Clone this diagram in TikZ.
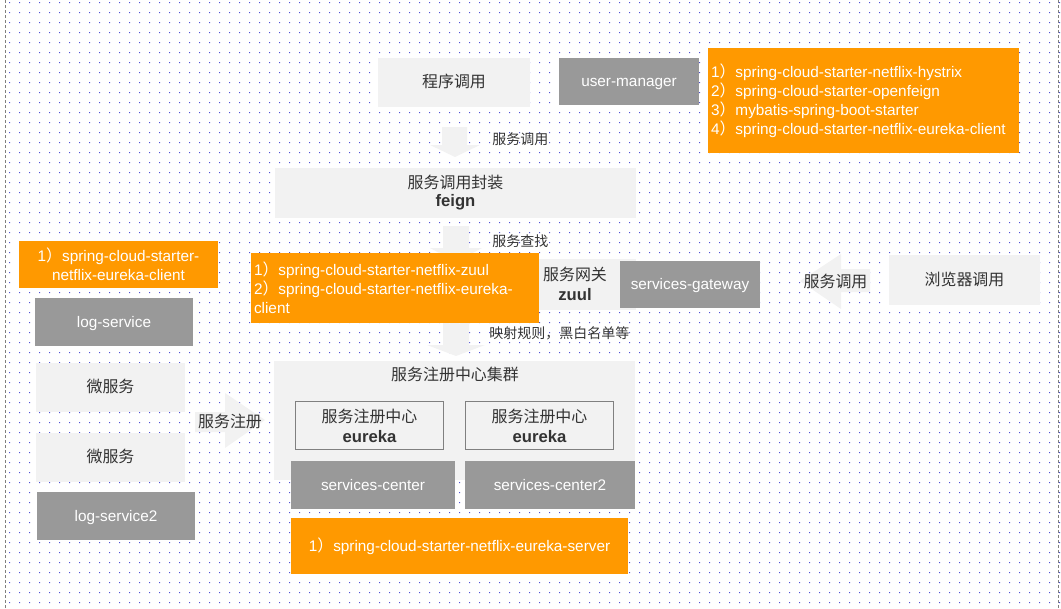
\documentclass[tikz,border=0pt]{standalone}
\usepackage{fontspec}
\setmainfont{Liberation Sans}
\newfontfamily\cjk[Scale=1.04]{Noto Sans CJK SC}
\definecolor{boxlight}{HTML}{F2F2F2}
\definecolor{boxgray}{HTML}{999999}
\definecolor{boxorange}{HTML}{FF9900}
\definecolor{textdark}{HTML}{333333}
\definecolor{griddot}{RGB}{80,80,215}
\definecolor{framegray}{HTML}{808080}
\newcommand\zh[1]{{\cjk #1}}
\newcommand\bigbf[1]{{\fontsize{12.5}{14}\selectfont\bfseries #1}}
\newcommand\diagboxfont{\fontsize{11.5}{14.25}\selectfont}
\newcommand\diaglabelfont{\fontsize{10.1}{12}\selectfont}
\begin{document}
\begin{tikzpicture}[x=0.75pt, y=-0.75pt,
  lightbox/.style={fill=boxlight, text=textdark, inner sep=0pt, align=center, font=\diagboxfont},
  graybox/.style={fill=boxgray, text=white, inner sep=0pt, align=center, font=\diagboxfont, oneline},
  orangebox/.style={fill=boxorange, text=white, inner sep=0pt, inner xsep=2.25pt, font=\diagboxfont},
  eurekabox/.style={lightbox, draw=framegray, line width=0.75pt},
  oneline/.style={text height=10.4pt, text depth=2.44pt},
  flowlabel/.style={text=textdark, inner sep=0pt, font=\diaglabelfont},
  blockarrow/.style={fill=boxlight}]
\useasboundingbox (0,0) rectangle (1061,608);
\fill[griddot] \foreach \i in {0,...,105} {\foreach \j in {0,...,60} {(9+10*\i,2+10*\j) rectangle +(1,1)}};
\draw[framegray, line width=0.75pt, dash pattern=on 2.25pt off 1.5pt] (5,0) -- (5,608);
\draw[framegray, line width=0.75pt, dash pattern=on 2.25pt off 1.5pt] (1058,0) -- (1058,608);
% block arrows
\fill[blockarrow] (442,127) -- (467,127) -- (467,145) -- (480,145) -- (455,157) -- (430,145) -- (442,145) -- cycle;
\fill[blockarrow] (443,226) -- (469,226) -- (469,248) -- (482,248) -- (456,262) -- (430,248) -- (443,248) -- cycle;
\fill[blockarrow] (443,318) -- (469,318) -- (469,345) -- (485,345) -- (456,356) -- (427,345) -- (443,345) -- cycle;
\fill[blockarrow] (870,269) -- (841,269) -- (841,254) -- (800,281) -- (841,309) -- (841,292) -- (870,292) -- cycle;
\fill[blockarrow] (195,412) -- (225,412) -- (225,393) -- (265,420) -- (225,448) -- (225,432) -- (195,432) -- cycle;
\node[lightbox, oneline, minimum width=114pt, minimum height=36.75pt] (prog) at (454,82.5) {\zh{程序调用}};
\node[graybox, minimum width=105pt, minimum height=35.25pt] (usermgr) at (629,81.5) {user-manager};
\node[orangebox, text width=228.75pt, minimum height=78.75pt, align=left] (userdeps) at (863.5,100.5)
  {1\zh{）}spring-cloud-starter-netflix-hystrix\\2\zh{）}spring-cloud-starter-openfeign\\3\zh{）}mybatis-spring-boot-starter\\4\zh{）}spring-cloud-starter-netflix-eureka-client};
\node[flowlabel, anchor=west] (callarrow) at (492,139) {\zh{服务调用}};
\node[lightbox, minimum width=270.75pt, minimum height=37.5pt, font=\fontsize{11.5}{13.5}\selectfont] (feign) at (455.5,193) {\zh{服务调用封装}\\\bigbf{feign}};
\node[flowlabel, anchor=west] (findarrow) at (492,241) {\zh{服务查找}};
\node[lightbox, minimum width=91.5pt, minimum height=38.25pt, font=\fontsize{11.5}{15.5}\selectfont] (zuul) at (575,284) {\zh{服务网关}\\\bigbf{zuul}};
\node[orangebox, text width=211.5pt, minimum height=52.5pt, align=left] (zuuldeps) at (395,287.5)
  {1\zh{）}spring-cloud-starter-netflix-zuul\\2\zh{）}spring-cloud-starter-netflix-eureka-\\client};
\node[graybox, minimum width=105pt, minimum height=35.25pt] (gateway) at (690,284.5) {services-gateway};
\node[lightbox, oneline, minimum width=113.25pt, minimum height=37.5pt] (browser) at (964.5,280) {\zh{浏览器调用}};
\node[flowlabel, font=\fontsize{11.5}{14}\selectfont] (browsearrow) at (835.5,281) {\zh{服务调用}};
\node[flowlabel, anchor=west] (rulearrow) at (489,333) {\zh{映射规则，黑白名单等}};
\node[orangebox, minimum width=149.25pt, minimum height=35.25pt, align=center] (logdeps) at (118.5,264.5)
  {1\zh{）}spring-cloud-starter-\\netflix-eureka-client};
\node[graybox, minimum width=118.5pt, minimum height=36pt] (logsvc) at (114,322) {log-service};
\node[lightbox, oneline, minimum width=111.75pt, minimum height=36.75pt] (micro1) at (110.5,387.5) {\zh{微服务}};
\node[lightbox, oneline, minimum width=111.75pt, minimum height=36.75pt] (micro2) at (110.5,457.5) {\zh{微服务}};
\node[graybox, minimum width=118.5pt, minimum height=36pt] (logsvc2) at (116,516) {log-service2};
\node[flowlabel, font=\fontsize{11.5}{14}\selectfont] (registerarrow) at (230,421) {\zh{服务注册}};
\node[lightbox, minimum width=270.75pt, minimum height=89.25pt] (cluster) at (454.5,420.5) {};
\node[flowlabel, font=\diagboxfont] (clustertitle) at (455,374) {\zh{服务注册中心集群}};
\node[eurekabox, minimum width=111pt, minimum height=36pt, font=\fontsize{11.5}{15}\selectfont] (eureka1) at (369.5,425.5) {\zh{服务注册中心}\\\bigbf{eureka}};
\node[eurekabox, minimum width=111pt, minimum height=36pt, font=\fontsize{11.5}{15}\selectfont] (eureka2) at (539.5,425.5) {\zh{服务注册中心}\\\bigbf{eureka}};
\node[graybox, minimum width=123pt, minimum height=36pt] (center1) at (373,485) {services-center};
\node[graybox, minimum width=127.5pt, minimum height=36pt] (center2) at (550,485) {services-center2};
\node[orangebox, oneline, minimum width=252.75pt, minimum height=42pt] (serverdeps) at (459.5,546) {1\zh{）}spring-cloud-starter-netflix-eureka-server};
\end{tikzpicture}
\end{document}
